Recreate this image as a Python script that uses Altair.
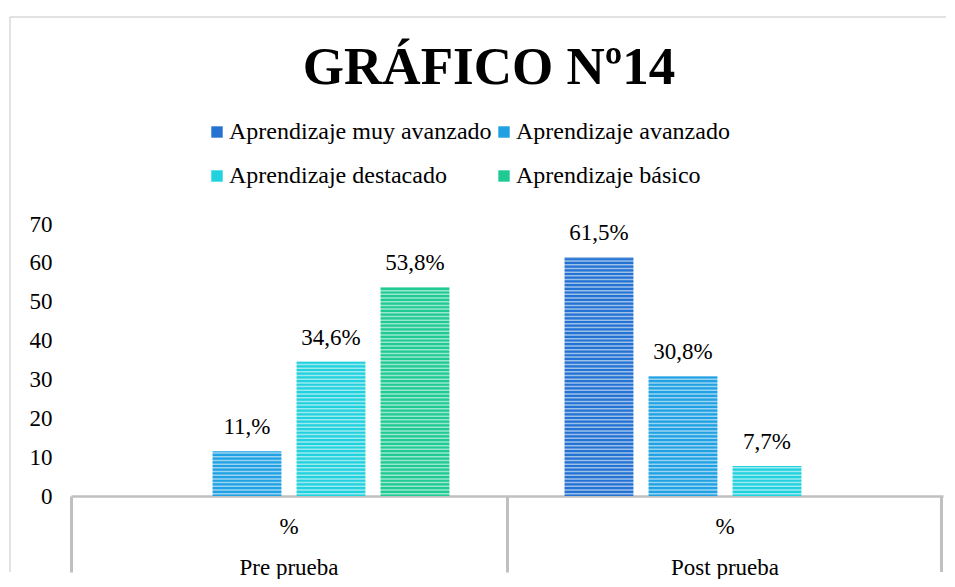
import altair as alt
import pandas as pd

# ---- data ----
groups = ["Pre prueba", "Post prueba"]
levels = ["Aprendizaje muy avanzado", "Aprendizaje avanzado",
          "Aprendizaje destacado", "Aprendizaje básico"]
pre_values = [0, 11.5, 34.6, 53.8]
post_values = [61.5, 30.8, 7.7, 0]
pre_labels = ["", "11,%", "34,6%", "53,8%"]
post_labels = ["61,5%", "30,8%", "7,7%", ""]
colors = ["#2472D2", "#1FA1E3", "#22D1DE", "#1FCA93"]
y_ticks = [0, 10, 20, 30, 40, 50, 60, 70]
title_text = "GRÁFICO Nº14"

rows = []
for g, vals, labs in [(groups[0], pre_values, pre_labels), (groups[1], post_values, post_labels)]:
    for lv, v, lb in zip(levels, vals, labs):
        rows.append({"group": g, "level": lv, "value": v, "label": lb})
df = pd.DataFrame(rows)

FONT = "Liberation Serif"
W, H = 872, 272
TABLE = 76
GRID = "#c0c0c0"
FRAME = "#d9d9d9"

x_axis = alt.Axis(
    title=None, bandPosition=0, tickSize=TABLE, tickWidth=3, tickColor=GRID,
    domainColor=GRID, domainWidth=2.5, labelExpr="['%', datum.label]",
    labelFont=FONT, labelFontSize=23, labelLineHeight=41, labelBaseline="top",
    labelPadding=19 - TABLE, labelAngle=0, labelColor="black",
    labelAlign="center", labelOverlap=False, labelBound=False,
)
y_axis = alt.Axis(
    title=None, values=y_ticks, grid=False, ticks=False, domain=False,
    labelFont=FONT, labelFontSize=23, labelColor="black", labelPadding=19,
    labelOverlap=False, labelFlush=False,
)
x_scale = alt.Scale(paddingInner=0, paddingOuter=0)
y_scale = alt.Scale(domain=[0, 70], nice=False)
xoff_enc = alt.XOffset("level:N", sort=levels,
                       scale=alt.Scale(paddingInner=0.18, paddingOuter=0.685))
color_enc = alt.Color(
    "level:N", sort=levels,
    scale=alt.Scale(domain=levels, range=colors),
    legend=alt.Legend(
        title=None, orient="none", legendX=134, legendY=-104, columns=2,
        columnPadding=0, rowPadding=20, symbolType="square", symbolSize=130,
        symbolStrokeWidth=0, labelFont=FONT, labelFontSize=24, labelColor="black",
        labelOffset=0, labelLimit=400, direction="horizontal",
    ),
)

base = alt.Chart(df).transform_filter("datum.value > 0")
bars = base.mark_bar().encode(
    x=alt.X("group:N", sort=groups, scale=x_scale, axis=x_axis),
    xOffset=xoff_enc,
    y=alt.Y("value:Q", scale=y_scale, axis=y_axis),
    color=color_enc)

# white horizontal stripes (invisible on the white background, visible on bars)
stripes = alt.Chart(alt.sequence(0.6, 70, 0.95, as_="s")).mark_rule(
    color="white", strokeWidth=1.5, opacity=0.55).encode(
    y=alt.Y("s:Q", scale=y_scale, axis=y_axis))

labels = base.mark_text(
    font=FONT, fontSize=23, baseline="alphabetic", dy=-17, color="black").encode(
    x=alt.X("group:N", sort=groups, scale=x_scale, axis=x_axis),
    xOffset=xoff_enc,
    y=alt.Y("value:Q", scale=y_scale, axis=y_axis), text="label:N")

one = pd.DataFrame({"t": [title_text]})
title = alt.Chart(one).mark_text(
    font=FONT, fontSize=53, fontWeight="bold", color="black", align="center",
    baseline="alphabetic").encode(x=alt.value(418), y=alt.value(-140), text="t:N")
frame_top = alt.Chart(one).mark_rule(color=FRAME, strokeWidth=1.5).encode(
    x=alt.value(-61), x2=alt.value(875), y=alt.value(-207))
frame_left = alt.Chart(one).mark_rule(color=FRAME, strokeWidth=1.5).encode(
    x=alt.value(-61), y=alt.value(-207), y2=alt.value(H + TABLE))
table_right = alt.Chart(one).mark_rule(color=GRID, strokeWidth=3).encode(
    x=alt.value(W - 1.5), y=alt.value(H), y2=alt.value(H + TABLE))

chart = alt.layer(bars, stripes, labels, title, frame_top, frame_left, table_right).properties(
    width=W, height=H,
    padding={"left": 1, "top": 8, "right": 0, "bottom": 0},
    background="white",
).configure_view(stroke=None)

chart.save("out.html", embed_options={"renderer": "svg", "actions": False})
